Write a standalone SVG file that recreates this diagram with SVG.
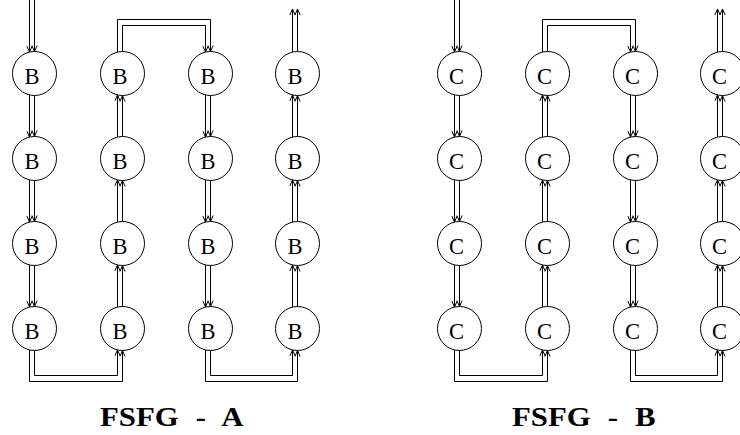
<svg xmlns="http://www.w3.org/2000/svg" width="740" height="435" viewBox="0 0 740 435">
  <style>
    .node circle { fill: #fff; stroke: #000; stroke-width: 1; }
    .node text { font-family: "Liberation Serif", "Times New Roman", serif; font-size: 22.5px; text-anchor: middle; fill: #000; }
    .wire { fill: none; stroke: #000; stroke-width: 1; marker-end: url(#tip); }
    .title { font-family: "Liberation Serif", "Times New Roman", serif; font-size: 28px; font-weight: bold; word-spacing: 8.5px; fill: #000; }
  </style>
  <defs>
    <marker id="tip" markerUnits="userSpaceOnUse" viewBox="-8 -4 9 8" markerWidth="9" markerHeight="8" refX="0" refY="0" orient="auto" overflow="visible">
      <path d="M-6,-2.6 L0,0 L-6,2.6" fill="none" stroke="#000" stroke-width="1"/>
    </marker>
    <!-- one wire pair for a straight hop between two rows -->
    <g id="down">
      <path class="wire" d="M-5,21.4 V63.6"/>
      <path class="wire" d="M0,22 V63"/>
    </g>
    <g id="up">
      <path class="wire" d="M-5,63.6 V21.4"/>
      <path class="wire" d="M0,63 V22"/>
    </g>
  </defs>

  <rect width="740" height="435" fill="#fff"/>

  <!-- connectors -->
  <g id="connectors">
    <!-- graph A -->
    <path class="wire" d="M29.5,0 V52.1"/>
    <path class="wire" d="M34.5,0 V51.5"/>
    <use href="#down" x="34.5" y="73.5"/>
    <use href="#down" x="34.5" y="158.5"/>
    <use href="#down" x="34.5" y="243.5"/>
    <path class="wire" d="M29.5,349.9 V381.5 H122.5 V350.5"/>
    <path class="wire" d="M34.5,350.5 V375.5 H117.5 V349.9"/>
    <use href="#up" x="122.5" y="243.5"/>
    <use href="#up" x="122.5" y="158.5"/>
    <use href="#up" x="122.5" y="73.5"/>
    <path class="wire" d="M117.5,52.1 V19.5 H210.5 V51.5"/>
    <path class="wire" d="M122.5,51.5 V25.5 H205.5 V52.1"/>
    <use href="#down" x="210.5" y="73.5"/>
    <use href="#down" x="210.5" y="158.5"/>
    <use href="#down" x="210.5" y="243.5"/>
    <path class="wire" d="M205.5,349.9 V381.5 H297.5 V350.5"/>
    <path class="wire" d="M210.5,350.5 V375.5 H292.5 V349.9"/>
    <use href="#up" x="297.5" y="243.5"/>
    <use href="#up" x="297.5" y="158.5"/>
    <use href="#up" x="297.5" y="73.5"/>
    <path class="wire" d="M292.5,52.1 V9"/>
    <path class="wire" d="M297.5,51.5 V9"/>

    <!-- graph B -->
    <path class="wire" d="M454.5,0 V52.1"/>
    <path class="wire" d="M459.5,0 V51.5"/>
    <use href="#down" x="459.5" y="73.5"/>
    <use href="#down" x="459.5" y="158.5"/>
    <use href="#down" x="459.5" y="243.5"/>
    <path class="wire" d="M454.5,349.9 V381.5 H547.5 V350.5"/>
    <path class="wire" d="M459.5,350.5 V375.5 H542.5 V349.9"/>
    <use href="#up" x="547.5" y="243.5"/>
    <use href="#up" x="547.5" y="158.5"/>
    <use href="#up" x="547.5" y="73.5"/>
    <path class="wire" d="M542.5,52.1 V19.5 H635.5 V51.5"/>
    <path class="wire" d="M547.5,51.5 V25.5 H630.5 V52.1"/>
    <use href="#down" x="635.5" y="73.5"/>
    <use href="#down" x="635.5" y="158.5"/>
    <use href="#down" x="635.5" y="243.5"/>
    <path class="wire" d="M630.5,349.9 V381.5 H722.5 V350.5"/>
    <path class="wire" d="M635.5,350.5 V375.5 H717.5 V349.9"/>
    <use href="#up" x="722.5" y="243.5"/>
    <use href="#up" x="722.5" y="158.5"/>
    <use href="#up" x="722.5" y="73.5"/>
    <path class="wire" d="M717.5,52.1 V9"/>
    <path class="wire" d="M722.5,51.5 V9"/>
  </g>

  <!-- graph A nodes -->
  <g id="a11" class="node"><circle cx="34.5" cy="73.5" r="22"/><text x="32" y="83.5">B</text></g>
  <g id="a21" class="node"><circle cx="34.5" cy="158.5" r="22"/><text x="32" y="168.5">B</text></g>
  <g id="a31" class="node"><circle cx="34.5" cy="243.5" r="22"/><text x="32" y="253.5">B</text></g>
  <g id="a41" class="node"><circle cx="34.5" cy="328.5" r="22"/><text x="32" y="338.5">B</text></g>
  <g id="a12" class="node"><circle cx="122.5" cy="73.5" r="22"/><text x="120" y="83.5">B</text></g>
  <g id="a22" class="node"><circle cx="122.5" cy="158.5" r="22"/><text x="120" y="168.5">B</text></g>
  <g id="a32" class="node"><circle cx="122.5" cy="243.5" r="22"/><text x="120" y="253.5">B</text></g>
  <g id="a42" class="node"><circle cx="122.5" cy="328.5" r="22"/><text x="120" y="338.5">B</text></g>
  <g id="a13" class="node"><circle cx="210.5" cy="73.5" r="22"/><text x="208" y="83.5">B</text></g>
  <g id="a23" class="node"><circle cx="210.5" cy="158.5" r="22"/><text x="208" y="168.5">B</text></g>
  <g id="a33" class="node"><circle cx="210.5" cy="243.5" r="22"/><text x="208" y="253.5">B</text></g>
  <g id="a43" class="node"><circle cx="210.5" cy="328.5" r="22"/><text x="208" y="338.5">B</text></g>
  <g id="a14" class="node"><circle cx="297.5" cy="73.5" r="22"/><text x="295" y="83.5">B</text></g>
  <g id="a24" class="node"><circle cx="297.5" cy="158.5" r="22"/><text x="295" y="168.5">B</text></g>
  <g id="a34" class="node"><circle cx="297.5" cy="243.5" r="22"/><text x="295" y="253.5">B</text></g>
  <g id="a44" class="node"><circle cx="297.5" cy="328.5" r="22"/><text x="295" y="338.5">B</text></g>

  <!-- graph B nodes -->
  <g id="b11" class="node"><circle cx="459.5" cy="73.5" r="22"/><text x="456.5" y="83.5">C</text></g>
  <g id="b21" class="node"><circle cx="459.5" cy="158.5" r="22"/><text x="456.5" y="168.5">C</text></g>
  <g id="b31" class="node"><circle cx="459.5" cy="243.5" r="22"/><text x="456.5" y="253.5">C</text></g>
  <g id="b41" class="node"><circle cx="459.5" cy="328.5" r="22"/><text x="456.5" y="338.5">C</text></g>
  <g id="b12" class="node"><circle cx="547.5" cy="73.5" r="22"/><text x="544.5" y="83.5">C</text></g>
  <g id="b22" class="node"><circle cx="547.5" cy="158.5" r="22"/><text x="544.5" y="168.5">C</text></g>
  <g id="b32" class="node"><circle cx="547.5" cy="243.5" r="22"/><text x="544.5" y="253.5">C</text></g>
  <g id="b42" class="node"><circle cx="547.5" cy="328.5" r="22"/><text x="544.5" y="338.5">C</text></g>
  <g id="b13" class="node"><circle cx="635.5" cy="73.5" r="22"/><text x="632.5" y="83.5">C</text></g>
  <g id="b23" class="node"><circle cx="635.5" cy="158.5" r="22"/><text x="632.5" y="168.5">C</text></g>
  <g id="b33" class="node"><circle cx="635.5" cy="243.5" r="22"/><text x="632.5" y="253.5">C</text></g>
  <g id="b43" class="node"><circle cx="635.5" cy="328.5" r="22"/><text x="632.5" y="338.5">C</text></g>
  <g id="b14" class="node"><circle cx="722.5" cy="73.5" r="22"/><text x="719.5" y="83.5">C</text></g>
  <g id="b24" class="node"><circle cx="722.5" cy="158.5" r="22"/><text x="719.5" y="168.5">C</text></g>
  <g id="b34" class="node"><circle cx="722.5" cy="243.5" r="22"/><text x="719.5" y="253.5">C</text></g>
  <g id="b44" class="node"><circle cx="722.5" cy="328.5" r="22"/><text x="719.5" y="338.5">C</text></g>

  <!-- captions, widened like an extended bold face -->
  <text class="title" transform="translate(100,426) scale(1.1,1)">FSFG - A</text>
  <text class="title" transform="translate(512,426) scale(1.1,1)">FSFG - B</text>
</svg>
